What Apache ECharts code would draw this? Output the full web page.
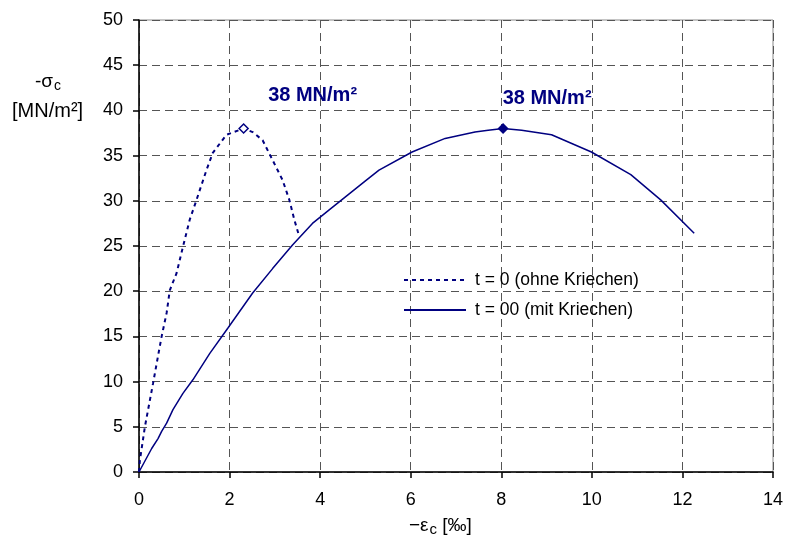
<!DOCTYPE html>
<html>
<head>
<meta charset="utf-8">
<script src="https://cdn.jsdelivr.net/npm/echarts@6/dist/echarts.min.js"></script>
<style>
  html, body { margin: 0; padding: 0; background: #fff; }
  #chart { width: 786px; height: 540px; }
</style>
</head>
<body>
<div id="chart"></div>
<script>
// t = 0 (ohne Kriechen)
var strainT0 = [0, 0.02, 0.13, 0.31, 0.39, 0.50, 0.61, 0.68, 0.83, 0.97, 1.12, 1.27, 1.49, 1.63, 1.93, 2.31, 2.51, 2.73, 2.95, 3.17, 3.32, 3.43, 3.53];
var stressT0 = [0, 1.3, 5.0, 9.8, 12.0, 15.0, 17.6, 20.1, 22.0, 24.9, 27.9, 30.1, 33.4, 35.3, 37.3, 38.0, 37.6, 36.7, 34.5, 32.3, 30.1, 27.9, 26.2];
// t = 00 (mit Kriechen)
var strainTinf = [0, 0.28, 0.42, 0.50, 0.61, 0.75, 0.97, 1.19, 1.56, 1.96, 2.51, 2.95, 3.39, 3.83, 4.20, 4.60, 5.00, 5.30, 6.03, 6.76, 7.42, 7.71, 8.04, 8.45, 9.11, 9.99, 10.86, 11.52, 12.26];
var stressTinf = [0, 2.6, 3.7, 4.5, 5.4, 6.9, 8.7, 10.2, 13.1, 15.9, 19.8, 22.5, 25.1, 27.5, 29.0, 30.6, 32.2, 33.4, 35.4, 36.9, 37.6, 37.8, 38.0, 37.8, 37.3, 35.4, 32.9, 30.1, 26.4];
// peaks
var peakT0 = [2.31, 38];
var peakTinf = [8.04, 38];
var peakLabel = '38 MN/m²';

var xTicks = { min: 0, max: 14, interval: 2 };
var yTicks = { min: 0, max: 50, interval: 5 };

function pairs(xs, ys) {
  var out = [];
  for (var i = 0; i < xs.length; i++) {
    out.push([xs[i], ys[i]]);
  }
  return out;
}

var navy = '#000080';
var font = 'Arial, "Liberation Sans", sans-serif';

var chart = echarts.init(document.getElementById('chart'));

var option = {
  animation: false,
  backgroundColor: '#fff',
  textStyle: { fontFamily: font },
  grid: {
    left: 139, right: 10, top: 20, bottom: 68,
    show: true, borderColor: '#8a8a8a', borderWidth: 1
  },
  legend: {
    left: 403, top: 271, orient: 'vertical', padding: 0,
    itemWidth: 62, itemHeight: 14, itemGap: 12,
    itemStyle: { opacity: 0 },
    data: ['t = 0 (ohne Kriechen)', 't = 00 (mit Kriechen)'],
    textStyle: { fontSize: 17.5, color: '#000', fontFamily: font, padding: [0, 0, 0, 4] }
  },
  xAxis: {
    type: 'value',
    min: xTicks.min, max: xTicks.max, interval: xTicks.interval,
    axisLine: { onZero: false, lineStyle: { color: '#000', width: 1.5 } },
    axisTick: { show: true, length: 6, lineStyle: { color: '#000', width: 1.5 } },
    axisLabel: { color: '#000', fontSize: 18, margin: 19, fontFamily: font },
    splitLine: { show: true, lineStyle: { color: '#555', type: [8, 5], width: 1 } }
  },
  yAxis: {
    type: 'value',
    min: yTicks.min, max: yTicks.max, interval: yTicks.interval,
    axisLine: { show: true, onZero: false, lineStyle: { color: '#000', width: 1.5 } },
    axisTick: { show: true, length: 6, lineStyle: { color: '#000', width: 1.5 } },
    axisLabel: { color: '#000', fontSize: 18, margin: 16, fontFamily: font },
    splitLine: { show: true, lineStyle: { color: '#555', type: [8, 5], width: 1 } }
  },
  graphic: [
    {
      type: 'text', left: 35, top: 72,
      style: {
        text: '-σ{s|c}', fill: '#000', font: '19px ' + font,
        rich: { s: { fontSize: 14, fontFamily: font, fill: '#000', padding: [9, 0, 0, 1] } }
      }
    },
    {
      type: 'text', left: 12, top: 101,
      style: { text: '[MN/m²]', fill: '#000', font: '20px ' + font }
    },
    {
      type: 'text', left: 409, top: 516,
      style: {
        text: '−ε{s|c} [‰]', fill: '#000', font: '19px ' + font,
        rich: { s: { fontSize: 15, fontFamily: font, fill: '#000', padding: [9, 0, 0, 1] } }
      }
    }
  ],
  series: [
    {
      name: 't = 0 (ohne Kriechen)',
      type: 'line',
      data: pairs(strainT0, stressT0),
      showSymbol: false, symbol: 'none',
      lineStyle: { color: navy, width: 2, type: [4, 4] },
      itemStyle: { color: navy }
    },
    {
      name: 't = 00 (mit Kriechen)',
      type: 'line',
      data: pairs(strainTinf, stressTinf),
      showSymbol: false, symbol: 'none',
      lineStyle: { color: navy, width: 1.5 },
      itemStyle: { color: navy }
    },
    {
      type: 'scatter',
      data: [peakT0],
      symbol: 'diamond', symbolSize: 9,
      itemStyle: { color: '#fff', borderColor: navy, borderWidth: 1.5, opacity: 1 },
      label: {
        show: true, position: 'inside', offset: [69, -33],
        formatter: peakLabel, color: navy, fontSize: 20, fontWeight: 'bold',
        fontFamily: font, textBorderWidth: 0
      },
      z: 5
    },
    {
      type: 'scatter',
      data: [peakTinf],
      symbol: 'diamond', symbolSize: 11,
      itemStyle: { color: navy, opacity: 1 },
      label: {
        show: true, position: 'inside', offset: [44, -30],
        formatter: peakLabel, color: navy, fontSize: 20, fontWeight: 'bold',
        fontFamily: font, textBorderWidth: 0
      },
      z: 5
    }
  ]
};

chart.setOption(option);
</script>
</body>
</html>
